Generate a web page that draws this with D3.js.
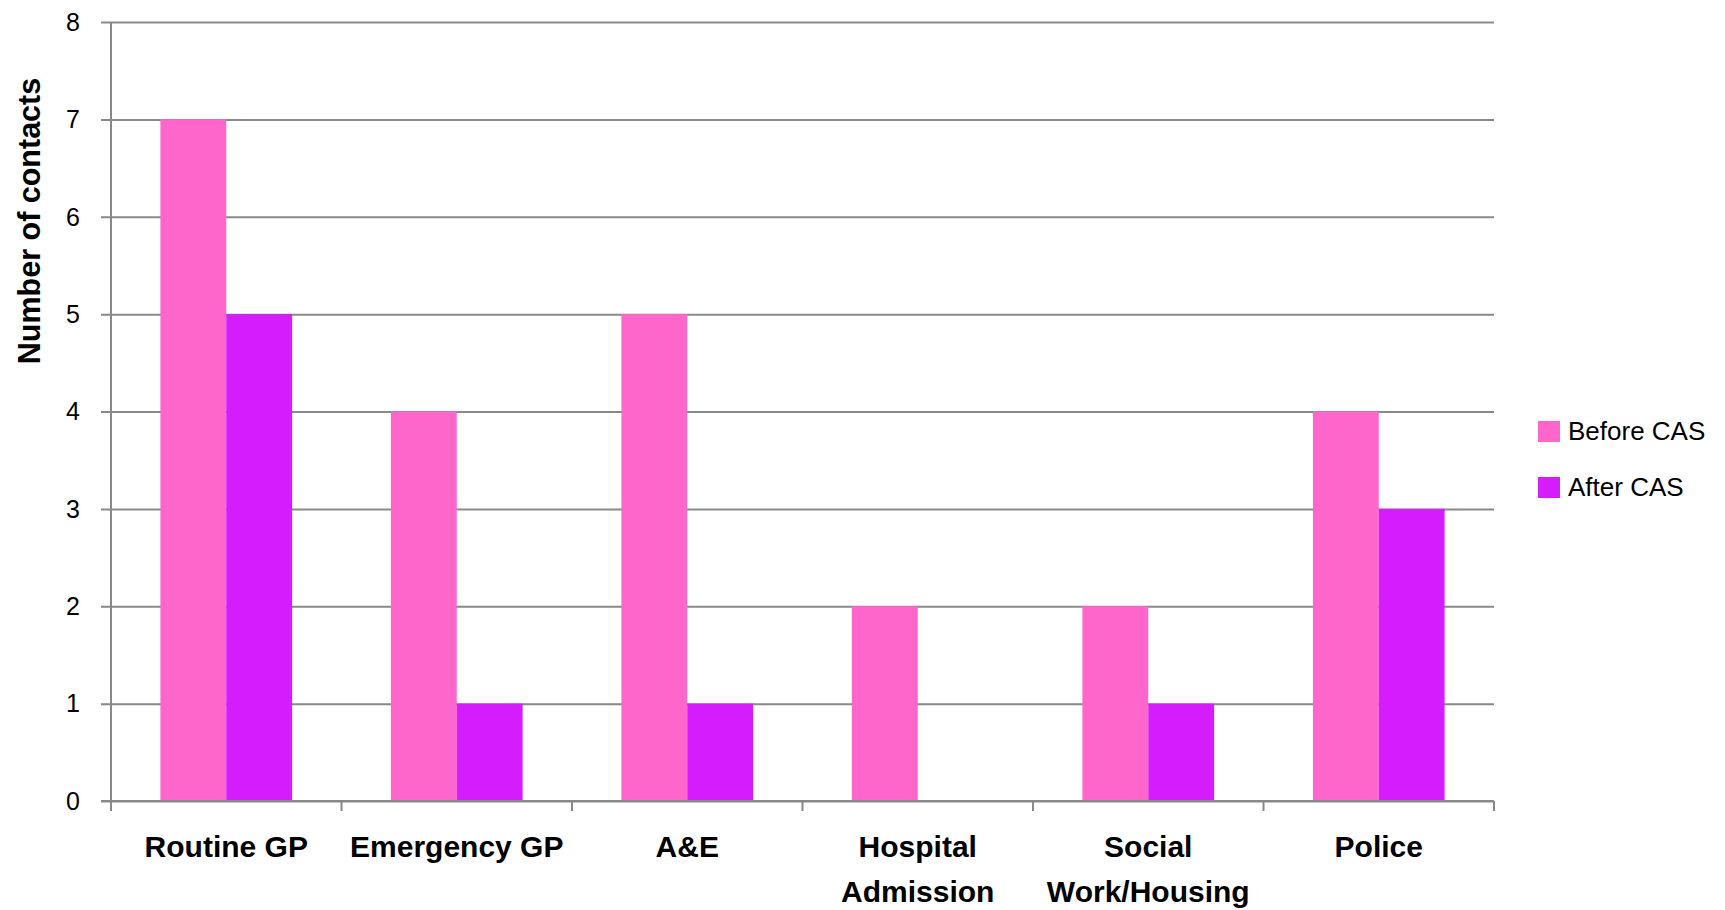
<!DOCTYPE html>
<html>
<head>
<meta charset="utf-8">
<script src="https://cdn.jsdelivr.net/npm/d3@7"></script>
<style>
  html, body { margin: 0; padding: 0; background: #fff; }
  svg { display: block; }
  text { font-family: "Liberation Sans", Arial, sans-serif; fill: #000; }
</style>
</head>
<body>
<svg id="chart" width="1725" height="910"></svg>
<script>
// Service contacts before and after CAS
const categories = [["Routine GP"], ["Emergency GP"], ["A&E"], ["Hospital", "Admission"], ["Social", "Work/Housing"], ["Police"]];
const seriesNames = ["Before CAS", "After CAS"];
const beforeValues = [7, 4, 5, 2, 2, 4];
const afterValues = [5, 1, 1, 0, 1, 3];
const yTicks = [0, 1, 2, 3, 4, 5, 6, 7, 8];
const colors = ["#FF66CC", "#D41CFC"];

const svg = d3.select("#chart");
const plot = { left: 111, right: 1494, top: 22, bottom: 801 };
const gridColor = "#898989";

const keys = categories.map(c => c.join(" "));
const x = d3.scaleBand().domain(keys).range([plot.left, plot.right]).paddingInner(0).paddingOuter(0);
const y = d3.scaleLinear().domain([0, 8]).range([plot.bottom, plot.top]);

// Excel-style clustered columns: gap width 150%
const barW = x.bandwidth() / 3.5;
const x1 = d3.scaleBand().domain(seriesNames).range([0.75 * barW, 2.75 * barW]);

// horizontal gridlines with left tick marks
const yAxis = d3.axisLeft(y).tickValues(yTicks).tickSize(-(plot.right - plot.left)).tickPadding(0).tickFormat("");
const gy = svg.append("g").attr("transform", `translate(${plot.left},0)`).call(yAxis);
gy.select(".domain").remove();
gy.selectAll(".tick line").attr("stroke", gridColor).attr("stroke-width", 2).attr("x1", -10);

// y tick labels
svg.append("g").selectAll("text").data(yTicks).join("text")
  .attr("x", 80).attr("y", d => y(d)).attr("dy", "0.35em")
  .attr("text-anchor", "end").attr("font-size", 25)
  .text(d => d);

// bars
const series = [beforeValues, afterValues];
series.forEach((vals, si) => {
  svg.append("g").selectAll("rect").data(vals).join("rect")
    .attr("x", (d, i) => x(keys[i]) + x1(seriesNames[si]))
    .attr("width", x1.bandwidth())
    .attr("y", d => y(d))
    .attr("height", d => y(0) - y(d))
    .attr("fill", colors[si]);
});

// vertical axis line
svg.append("line")
  .attr("x1", plot.left).attr("x2", plot.left)
  .attr("y1", plot.top).attr("y2", plot.bottom)
  .attr("stroke", gridColor).attr("stroke-width", 2);

// category axis with boundary tick marks
svg.append("line")
  .attr("x1", plot.left - 10).attr("x2", plot.right)
  .attr("y1", plot.bottom).attr("y2", plot.bottom)
  .attr("stroke", gridColor).attr("stroke-width", 2);
const bounds = keys.map(k => x(k)).concat([plot.right]);
svg.append("g").selectAll("line").data(bounds).join("line")
  .attr("x1", d => d).attr("x2", d => d)
  .attr("y1", plot.bottom).attr("y2", plot.bottom + 10)
  .attr("stroke", gridColor).attr("stroke-width", 2);

// category labels
const labels = svg.append("g").selectAll("text").data(categories).join("text")
  .attr("x", (d, i) => x(keys[i]) + x.bandwidth() / 2)
  .attr("y", 857)
  .attr("text-anchor", "middle")
  .attr("font-size", 30).attr("font-weight", "bold");
labels.each(function(lines) {
  const t = d3.select(this);
  lines.forEach((ln, j) => {
    t.append("tspan").attr("x", t.attr("x")).attr("dy", j === 0 ? 0 : 45).text(ln);
  });
});

// y axis title
svg.append("text")
  .attr("transform", "translate(40,221) rotate(-90)")
  .attr("text-anchor", "middle")
  .attr("font-size", 30.5).attr("font-weight", "bold")
  .text("Number of contacts");

// legend
const legend = svg.append("g");
seriesNames.forEach((name, i) => {
  const ly = 431 + i * 56;
  legend.append("rect").attr("x", 1538).attr("y", ly - 10).attr("width", 22).attr("height", 21).attr("fill", colors[i]);
  legend.append("text").attr("x", 1568).attr("y", ly).attr("dy", "0.35em")
    .attr("font-size", 26).text(name);
});
</script>
</body>
</html>
